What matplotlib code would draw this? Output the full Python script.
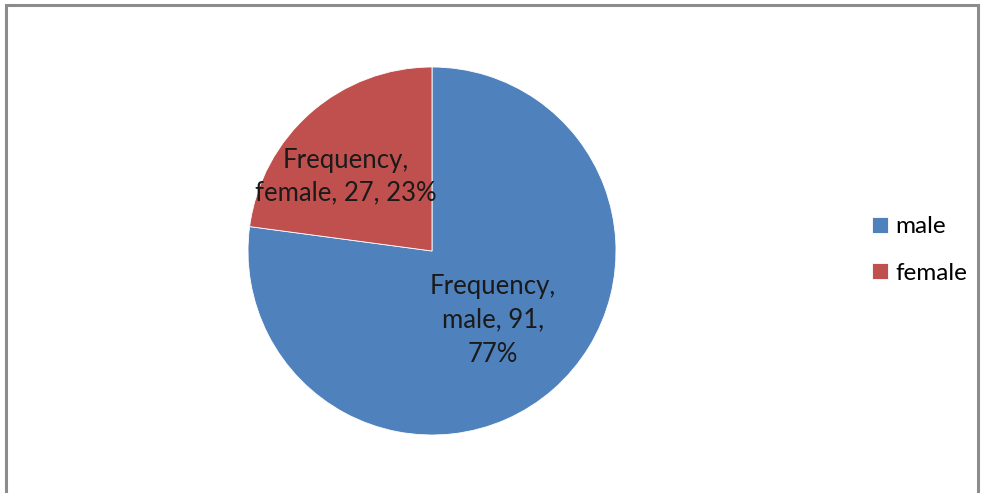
import matplotlib
matplotlib.use('Agg')
import matplotlib.pyplot as plt
from matplotlib.patches import Rectangle
import numpy as np

plt.rcParams['font.family'] = ['Lato', 'DejaVu Sans']

series_name = 'Frequency'
categories = ['male', 'female']
counts = [91, 27]
colors = ['#4F81BD', '#C0504D']

W, H = 982, 493
fig = plt.figure(figsize=(W / 100, H / 100), dpi=100)
ax = fig.add_axes([0, 0, 1, 1])

cx, cy, r = 432, H - 251, 184
wedges, _ = ax.pie(counts, colors=colors, startangle=90, counterclock=False,
                   center=(cx, cy), radius=r, frame=True,
                   wedgeprops=dict(edgecolor='white', linewidth=0.6))
ax.set_xlim(0, W)
ax.set_ylim(0, H)
ax.set_aspect('equal')
ax.axis('off')

# chart frame
ax.add_patch(Rectangle((6, -10), 972, H - 5 + 10, fill=False, edgecolor='#8c8c8c', linewidth=2.2))

total = sum(counts)
label_texts = [
    f'{series_name},\n{categories[0]}, {counts[0]},\n{round(100 * counts[0] / total)}%',
    f'{series_name},\n{categories[1]}, {counts[1]}, {round(100 * counts[1] / total)}%',
]
dists = [0.5, 0.62]
ang_shift = [0, 8]
spacing = [1.45, 1.38]
for w, txt, d, da, ls in zip(wedges, label_texts, dists, ang_shift, spacing):
    ang = np.deg2rad((w.theta1 + w.theta2) / 2 + da)
    ax.text(cx + d * r * np.cos(ang), cy + d * r * np.sin(ang), txt,
            ha='center', va='center', fontsize=18.5, color='#1a1a1a', linespacing=ls)

leg = ax.legend(wedges, categories, loc='center left', bbox_to_anchor=(850 / W, 1 - 250 / H),
                frameon=False, fontsize=17.5, handlelength=0.65, handleheight=0.65,
                handletextpad=0.3, labelspacing=1.05)

fig.savefig('out.png', dpi=100)
